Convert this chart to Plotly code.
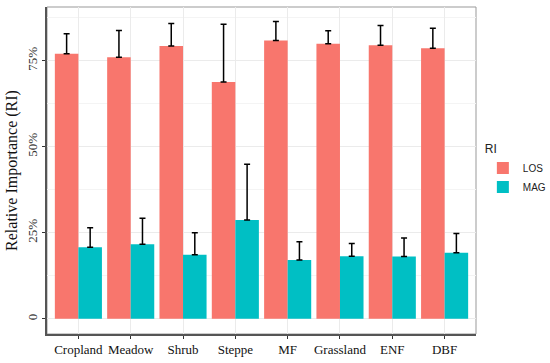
import plotly.graph_objects as go

categories = ["Cropland", "Meadow", "Shrub", "Steppe", "MF", "Grassland", "ENF", "DBF"]
los_values = [0.770, 0.760, 0.793, 0.688, 0.809, 0.799, 0.795, 0.786]
los_upper = [0.828, 0.838, 0.858, 0.856, 0.864, 0.837, 0.852, 0.844]
mag_values = [0.208, 0.217, 0.186, 0.287, 0.171, 0.182, 0.181, 0.192]
mag_upper = [0.265, 0.292, 0.250, 0.449, 0.224, 0.219, 0.235, 0.248]

y_ticks = [0, 0.25, 0.5, 0.75]
y_ticklabels = ["0", "25%", "50%", "75%"]

LOS_COLOR = "#F8766D"
MAG_COLOR = "#00BFC4"

fig = go.Figure()
for name, vals, ups, col in [("LOS", los_values, los_upper, LOS_COLOR),
                             ("MAG", mag_values, mag_upper, MAG_COLOR)]:
    fig.add_trace(go.Bar(
        x=categories, y=vals, name=name, marker=dict(color=col, line=dict(width=0)),
        error_y=dict(type="data", symmetric=False,
                     array=[u - v for u, v in zip(ups, vals)],
                     arrayminus=[0] * len(vals),
                     color="black", thickness=1.5, width=3),
    ))

serif = "Liberation Serif, Times New Roman, serif"
sans = "Liberation Sans, Arial, sans-serif"

fig.update_layout(
    width=550, height=363,
    margin=dict(l=47, r=74, t=7, b=29, autoexpand=False),
    paper_bgcolor="white", plot_bgcolor="white",
    barmode="group", bargap=0.1, bargroupgap=0,
    showlegend=True,
    legend=dict(title=dict(text="RI", font=dict(family=sans, size=12, color="#222")),
                x=1.016, xanchor="left", y=0.6, yanchor="top",
                font=dict(family=sans, size=10, color="#222"),
                itemwidth=30,
                bgcolor="rgba(0,0,0,0)", tracegroupgap=2),
    xaxis=dict(range=[-0.6, 7.6], showgrid=True, gridcolor="#EBEBEB", gridwidth=1,
               tickangle=0, automargin=False,
               ticks="outside", ticklen=3, tickcolor="#333", tickwidth=1,
               showline=True, linecolor="#555", linewidth=1.5,
               tickfont=dict(family=serif, size=13, color="#111")),
    yaxis=dict(range=[-0.044, 0.906], tickvals=y_ticks, ticktext=y_ticklabels,
               tickangle=-90, showgrid=True, gridcolor="#EBEBEB", gridwidth=1,
               automargin=False,
               minor=dict(tickvals=[0.125, 0.375, 0.625, 0.875], showgrid=True,
                          gridcolor="#F4F4F4", gridwidth=1),
               zeroline=False, ticks="outside", ticklen=3, tickcolor="#333", tickwidth=1,
               showline=True, linecolor="#555", linewidth=1.5,
               tickfont=dict(family=serif, size=13, color="#333"),
               title=dict(text="Relative Importance (RI)", standoff=3,
                          font=dict(family=serif, size=16, color="#111"))),
    shapes=[dict(type="rect", xref="paper", yref="paper", x0=0, x1=1, y0=0, y1=1,
                 line=dict(color="#999", width=1), fillcolor="rgba(0,0,0,0)", layer="below")],
)

fig.write_html("out.html", config={"displayModeBar": False},
               post_script="document.body.style.margin='0';document.body.style.overflow='hidden';")
